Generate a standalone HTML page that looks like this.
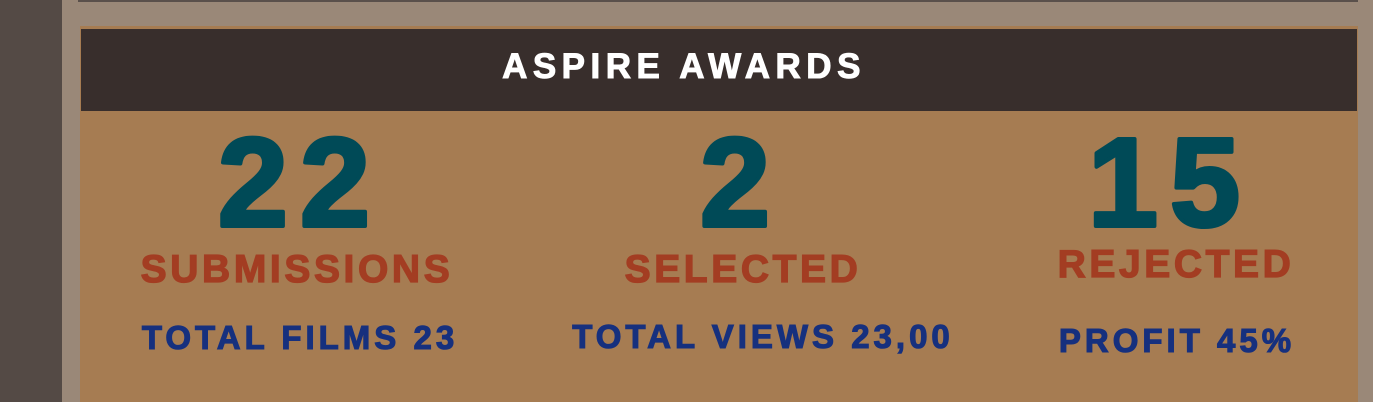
<!DOCTYPE html>
<html><head><meta charset="utf-8"><style>
html,body{margin:0;padding:0;width:1373px;height:402px;overflow:hidden;background:#9a8878}
svg{display:block}
text{font-family:"Liberation Sans",Arial,sans-serif;font-weight:700}
</style></head><body>
<svg width="1373" height="402">
<rect x="0" y="0" width="62" height="402" fill="#544a45"/>
<rect x="78" y="0" width="1280" height="2" fill="#5a504b"/>
<rect x="80" y="26" width="1278" height="376" fill="#a67c52"/>
<rect x="81" y="29" width="1276" height="82" fill="#382e2c"/>
<text x="684" y="78" font-weight="bold" font-size="35" letter-spacing="5.5" fill="#ffffff" stroke="#ffffff" stroke-width="1" text-anchor="middle">ASPIRE AWARDS</text>

<g>
<text x="300" y="226" font-weight="bold" font-size="126" letter-spacing="12" fill="#004a57" stroke="#004a57" stroke-width="4" stroke-linejoin="round" text-anchor="middle">22</text>
<text x="297" y="282" font-weight="bold" font-size="39" letter-spacing="3.6" fill="#a33d22" stroke="#a33d22" stroke-width="1.3" text-anchor="middle">SUBMISSIONS</text>
<text x="300" y="349" font-weight="bold" font-size="33" letter-spacing="4" fill="#16307e" stroke="#16307e" stroke-width="1.1" text-anchor="middle">TOTAL FILMS 23</text>
</g>
<g>
<text x="741" y="226" font-weight="bold" font-size="126" letter-spacing="12" fill="#004a57" stroke="#004a57" stroke-width="4" stroke-linejoin="round" text-anchor="middle">2</text>
<text x="743" y="282" font-weight="bold" font-size="39" letter-spacing="3.6" fill="#a33d22" stroke="#a33d22" stroke-width="1.3" text-anchor="middle">SELECTED</text>
<text x="763" y="348" font-weight="bold" font-size="33" letter-spacing="4" fill="#16307e" stroke="#16307e" stroke-width="1.1" text-anchor="middle">TOTAL VIEWS 23,00</text>
</g>
<g>
<text x="1170" y="226" font-weight="bold" font-size="126" letter-spacing="12" fill="#004a57" stroke="#004a57" stroke-width="4" stroke-linejoin="round" text-anchor="middle">15</text>
<text x="1176" y="277" font-weight="bold" font-size="39" letter-spacing="3.6" fill="#a33d22" stroke="#a33d22" stroke-width="1.3" text-anchor="middle">REJECTED</text>
<text x="1177" y="352" font-weight="bold" font-size="33" letter-spacing="4" fill="#16307e" stroke="#16307e" stroke-width="1.1" text-anchor="middle">PROFIT 45%</text>
</g>
</svg>
</body></html>
